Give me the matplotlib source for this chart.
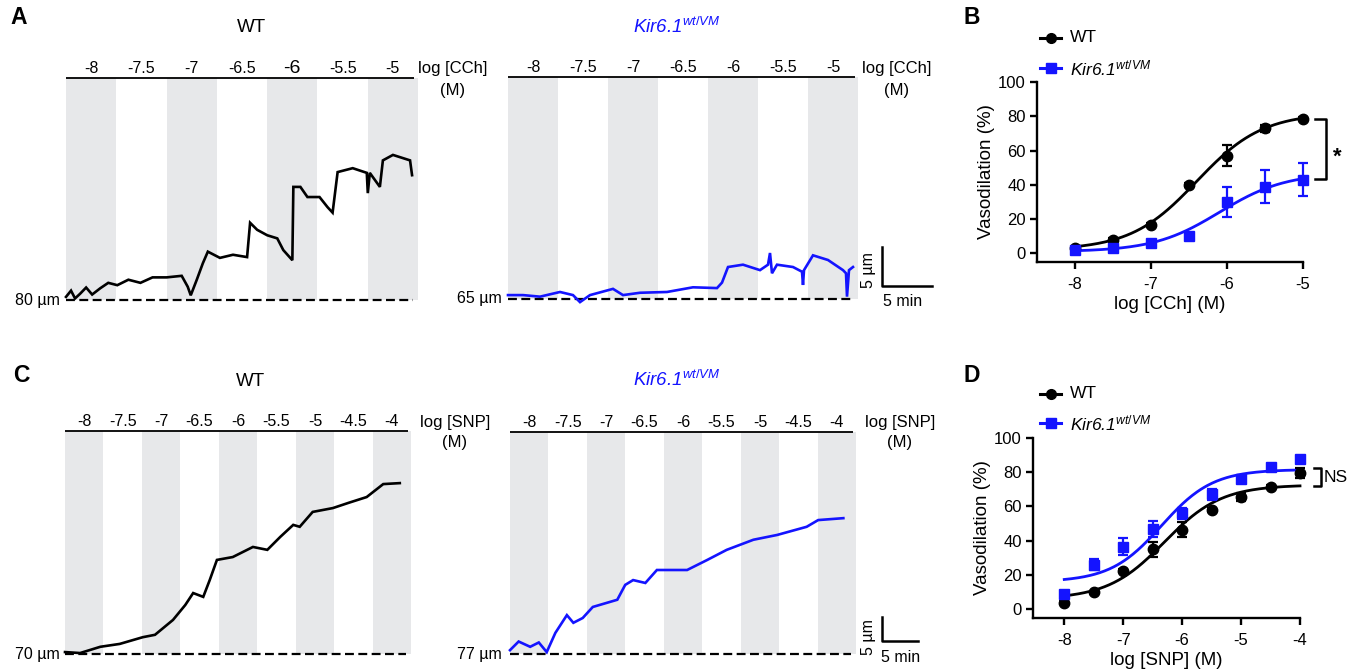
import numpy as np
import matplotlib
matplotlib.use('Agg')
import matplotlib.pyplot as plt
from matplotlib.patches import Rectangle

plt.rcParams['font.family'] = ['Liberation Sans', 'DejaVu Sans']
plt.rcParams['mathtext.fontset'] = 'custom'
plt.rcParams['mathtext.rm'] = 'Liberation Sans'
plt.rcParams['mathtext.it'] = 'Liberation Sans:italic'

W, H = 1365, 669
BLUE = '#1414ff'
GRAY = '#e7e8ea'
KIR = r'Kir6.1$^{\mathit{wt/VM}}$'

# ---------------- data ----------------
cch_labels = ['-8', '-7.5', '-7', '-6.5', '-6', '-5.5', '-5']
snp_labels = ['-8', '-7.5', '-7', '-6.5', '-6', '-5.5', '-5', '-4.5', '-4']

# Panel A traces: time (min), diameter change from baseline (um)
a_wt_t = [0, 0.5, 0.9, 1.4, 2.0, 2.6, 3.4, 4.2, 5.1, 6.2, 7.4, 8.6, 10.0, 11.5, 12.1, 12.4, 13.0, 13.6,
          14.1, 15.3, 16.6, 18.0, 18.3, 19.0, 20.0, 21.0, 21.6, 22.5, 22.6, 23.3, 24.0, 25.2, 26.0,
          26.5, 27.0, 28.5, 29.9, 30.0, 30.2, 31.2, 31.5, 32.5, 34.2, 34.4]
a_wt_d = [0.4, 1.2, 0.2, 0.8, 1.6, 0.7, 1.5, 2.2, 1.9, 2.6, 2.2, 2.9, 2.9, 3.1, 1.7, 0.6, 2.6, 4.7,
          6.2, 5.4, 5.8, 5.5, 9.9, 9.0, 8.3, 7.9, 6.4, 5.1, 14.5, 14.5, 13.2, 13.2, 11.9,
          11.2, 16.4, 16.9, 16.3, 13.7, 16.3, 14.5, 17.9, 18.6, 17.9, 16.0]
a_kir_t = [0, 1.5, 3.2, 5.2, 6.5, 7.2, 8.2, 10.5, 11.5, 13.2, 15.9, 18.5, 20.9, 21.4, 22.0, 23.5,
           25.2, 26.0, 26.2, 26.4, 26.9, 28.5, 29.4, 29.5, 29.6, 30.5, 32.0, 33.5, 33.8, 33.9, 34.1, 34.5]
a_kir_d = [0.5, 0.5, 0.3, 0.9, 0.5, -0.4, 0.5, 1.3, 0.5, 0.8, 0.9, 1.5, 1.4, 2.1, 4.1, 4.4,
           3.7, 4.4, 5.9, 3.3, 4.4, 4.1, 3.5, 1.8, 3.7, 5.6, 5.0, 3.7, 3.3, 0.3, 3.7, 4.1]

# Panel C traces
c_wt_t = [0, 2.1, 4.9, 7.6, 10.8, 12.5, 15.0, 16.7, 17.8, 19.2, 20.1, 21.1, 23.3, 26.1, 28.1, 29.9,
          31.7, 32.6, 34.4, 37.2, 39.4, 41.9, 44.2, 46.5]
c_wt_d = [0.4, 0.2, 1.5, 2.1, 3.5, 4.0, 7.1, 10.2, 12.7, 11.9, 15.4, 19.6, 20.2, 22.3, 21.7, 24.4,
          26.9, 26.5, 29.6, 30.4, 31.5, 32.7, 35.4, 35.6]
c_kir_t = [0, 1.2, 2.8, 4.0, 5.1, 6.3, 7.9, 8.8, 10.1, 11.5, 14.9, 16.0, 17.1, 18.8, 20.4, 24.6, 27.4, 30.1,
           33.8, 37.1, 41.2, 42.8, 46.3]
c_kir_d = [0.8, 2.6, 1.5, 2.4, 0.4, 4.4, 8.1, 6.5, 7.5, 9.8, 11.3, 14.4, 15.4, 14.8, 17.5, 17.5, 19.6, 21.7,
           23.8, 24.8, 26.5, 27.9, 28.3]

# Panel B: CCh concentration-response
b_logc = [-8, -7.5, -7, -6.5, -6, -5.5, -5]
b_wt_mean = [3, 8, 16.5, 40, 57, 73, 78.5]
b_wt_sem = [0.8, 1, 1, 1, 6, 2, 1]
b_kir_mean = [2, 3, 6, 10, 30, 39, 43]
b_kir_sem = [0.5, 0.8, 1, 1, 8.5, 9.5, 9.7]
b_wt_fit = dict(bottom=2, top=82, logec50=-6.4, hill=1.0)
b_kir_fit = dict(bottom=1, top=47, logec50=-6.1, hill=1.0)

# Panel D: SNP concentration-response
d_logc = [-8, -7.5, -7, -6.5, -6, -5.5, -5, -4.5, -4]
d_wt_mean = [4, 10, 22.5, 35, 46.5, 58, 65.5, 71.5, 79.5]
d_wt_sem = [1, 1, 1, 4.4, 4.2, 1, 2.5, 1, 3]
d_kir_mean = [8.7, 26, 36.5, 47, 56, 67, 76, 83, 87.5]
d_kir_sem = [2, 3.2, 5, 4.7, 3.2, 3, 1, 1, 1]
d_wt_fit = dict(bottom=6, top=72.5, logec50=-6.3, hill=0.9)
d_kir_fit = dict(bottom=16, top=81.5, logec50=-6.35, hill=1.0)


def hill(x, p):
    x = np.asarray(x)
    return p['bottom'] + (p['top'] - p['bottom']) / (1 + 10 ** ((p['logec50'] - x) * p['hill']))


fig = plt.figure(figsize=(13.65, 6.69), dpi=100)


def trace_panel(x0, x1, ytop, ybase, ppm, ppu, labels, t, d, color, big=None, lw=1.6):
    pad = 8
    ax = fig.add_axes([x0 / W, 1 - (ybase + pad) / H, (x1 - x0) / W, (ybase + pad - ytop) / H])
    tmax = (x1 - x0) / ppm
    top = (ybase - ytop) / ppu
    ax.set_xlim(0, tmax)
    ax.set_ylim(-pad / ppu, top)
    ax.axis('off')
    n = len(labels)
    bw = tmax / n
    for i, lab in enumerate(labels):
        if i % 2 == 0:
            ax.add_patch(Rectangle((i * bw, 0), bw, top, facecolor=GRAY, lw=0, zorder=0))
        fs = 14 if (big is not None and i == big) else 11.5
        ax.text((i + 0.5) * bw, top + 5 / ppu, lab, ha='center', va='baseline',
                fontsize=fs, clip_on=False)
    ax.plot([0, tmax * 0.99], [top, top], color='k', lw=1.3, clip_on=False, solid_capstyle='butt')
    ax.plot([0, tmax * 0.985], [0, 0], color='k', lw=1.6, ls=(0, (4, 2)), clip_on=False, zorder=1.5)
    ax.plot(t, d, color=color, lw=lw, clip_on=False, zorder=2, solid_joinstyle='miter')
    return ax


trace_panel(66, 418, 78, 300, 10.06, 7.8, cch_labels, a_wt_t, a_wt_d, 'k', big=4, lw=1.9)
trace_panel(508, 858, 77, 299, 10.0, 7.8, cch_labels, a_kir_t, a_kir_d, BLUE, lw=1.9)
trace_panel(65, 411, 431, 654, 7.2, 4.8, snp_labels, c_wt_t, c_wt_d, 'k', lw=1.9)
trace_panel(510, 856, 432, 654, 7.2, 4.8, snp_labels, c_kir_t, c_kir_d, BLUE, lw=1.9)


def crc_panel(rect, xlim, xticks, logc, wm, ws, km, ks, wfit, kfit, xlabel):
    ax = fig.add_axes(rect)
    ax.set_xlim(*xlim)
    ax.set_ylim(-5, 100)
    for s in ['top', 'right']:
        ax.spines[s].set_visible(False)
    for s in ['left', 'bottom']:
        ax.spines[s].set_linewidth(1.7)
    ax.tick_params(width=1.7, length=5, labelsize=12, direction='out', pad=3)
    ax.tick_params(axis='x', pad=6)
    ax.set_xticks(xticks)
    ax.set_xticklabels([str(v) for v in xticks])
    ax.set_yticks([0, 20, 40, 60, 80, 100])
    xx = np.linspace(logc[0], logc[-1], 200)
    ax.plot(xx, hill(xx, wfit), color='k', lw=2.0, clip_on=False, zorder=3)
    ax.plot(xx, hill(xx, kfit), color=BLUE, lw=2.0, clip_on=False, zorder=3)
    ax.errorbar(logc, wm, yerr=ws, fmt='o', color='k', ms=7.5, capsize=3.5, elinewidth=1.6,
                capthick=1.6, clip_on=False, zorder=4)
    ax.errorbar(logc, km, yerr=ks, fmt='s', color=BLUE, ms=7, capsize=3.5, elinewidth=1.6,
                capthick=1.6, clip_on=False, zorder=4)
    ax.set_ylabel('Vasodilation (%)', fontsize=13.5, labelpad=2)
    ax.set_xlabel(xlabel, fontsize=13.5, labelpad=2.5)
    return ax


crc_panel([1037 / W, 1 - 262 / H, (1303 - 1037) / W, (262 - 82) / H], (-8.5, -5), [-8, -7, -6, -5],
          b_logc, b_wt_mean, b_wt_sem, b_kir_mean, b_kir_sem, b_wt_fit, b_kir_fit, 'log [CCh] (M)')
crc_panel([1033 / W, 1 - 618 / H, (1300 - 1033) / W, (618 - 437.7) / H], (-8.53, -4),
          [-8, -7, -6, -5, -4],
          d_logc, d_wt_mean, d_wt_sem, d_kir_mean, d_kir_sem, d_wt_fit, d_kir_fit, 'log [SNP] (M)')

# ---------------- overlay annotations (pixel coordinates) ----------------
ov = fig.add_axes([0, 0, 1, 1], facecolor='none')
ov.set_xlim(0, W)
ov.set_ylim(H, 0)
ov.axis('off')

for lab, (x, y) in {'A': (19, 18), 'B': (972, 18), 'C': (21, 375), 'D': (972, 375)}.items():
    ov.text(x, y, lab, fontsize=16.5, fontweight='bold', ha='center', va='center')

ov.text(251, 27, 'WT', fontsize=13.5, ha='center', va='center')
ov.text(677, 27, KIR, fontsize=13.5, ha='center', va='center', color=BLUE, style='italic')
ov.text(250, 382, 'WT', fontsize=13.5, ha='center', va='center')
ov.text(677, 380, KIR, fontsize=13.5, ha='center', va='center', color=BLUE, style='italic')

for x in (453, 897):
    ov.text(x, 68, 'log [CCh]', fontsize=12, ha='center', va='center')
    ov.text(x, 90, '(M)', fontsize=12, ha='center', va='center')
for x in (455, 900):
    ov.text(x, 422, 'log [SNP]', fontsize=12, ha='center', va='center')
    ov.text(x, 443, '(M)', fontsize=12, ha='center', va='center')

ov.text(60, 300, '80 µm', fontsize=11.5, ha='right', va='center')
ov.text(502, 299, '65 µm', fontsize=11.5, ha='right', va='center')
ov.text(60, 654, '70 µm', fontsize=11.5, ha='right', va='center')
ov.text(502, 654, '77 µm', fontsize=11.5, ha='right', va='center')

# scale bars (5 um, 5 min)
ov.plot([882, 882, 882 + 5 * 10.0], [286 - 5 * 7.8, 286, 286], color='k', lw=1.8)
ov.text(869, 270, '5 µm', rotation=90, fontsize=11.5, ha='center', va='center')
ov.text(903, 302, '5 min', fontsize=11.5, ha='center', va='center')
ov.plot([882, 882, 882 + 5 * 7.2], [641 - 5 * 4.8, 641, 641], color='k', lw=1.8)
ov.text(869, 637, '5 µm', rotation=90, fontsize=11.5, ha='center', va='center')
ov.text(901, 657, '5 min', fontsize=11.5, ha='center', va='center')

# legends
for (yy, col, mk, lab, st) in [(38, 'k', 'o', 'WT', 'normal'), (68, BLUE, 's', KIR, 'italic'),
                                (394, 'k', 'o', 'WT', 'normal'), (423, BLUE, 's', KIR, 'italic')]:
    ov.plot([1040, 1061], [yy, yy], color=col, lw=2.2)
    ov.plot([1050.5], [yy], marker=mk, color=col, ms=7)
    ov.text(1070, yy, lab, fontsize=12.5, ha='left', va='center', style=st)

# significance brackets
ov.plot([1315, 1326, 1326, 1315], [119, 119, 179, 179], color='k', lw=1.8)
ov.text(1337, 157, '*', fontsize=16, fontweight='bold', ha='center', va='center')
ov.plot([1314, 1321, 1321, 1314], [468, 468, 486, 486], color='k', lw=1.8)
ov.text(1324, 477, 'NS', fontsize=12.5, ha='left', va='center')

fig.savefig('out.png', dpi=100)
